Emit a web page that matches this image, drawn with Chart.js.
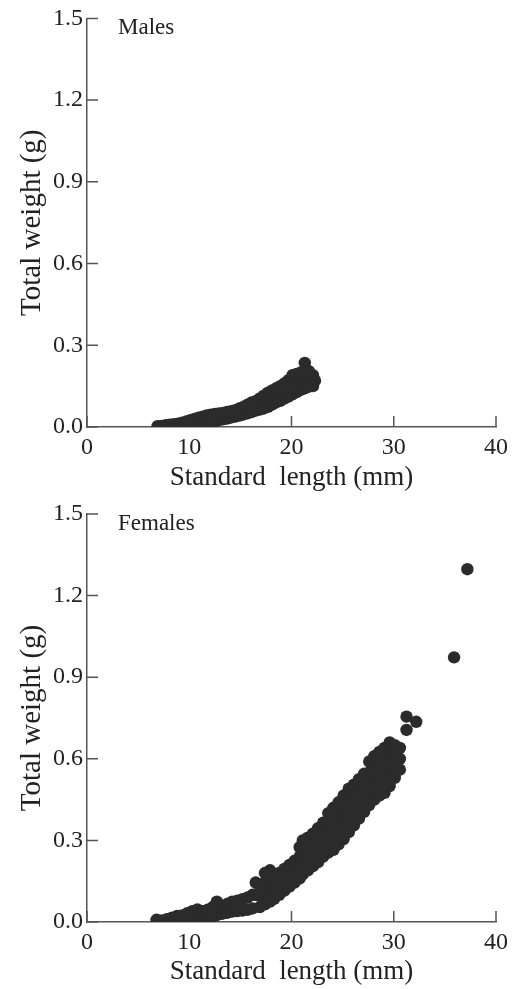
<!DOCTYPE html>
<html>
<head>
<meta charset="utf-8">
<title>Total weight vs standard length</title>
<script src="https://cdn.jsdelivr.net/npm/chart.js@4.4.1/dist/chart.umd.min.js"></script>
<style>
  body { margin: 0; background: #fff; }
  canvas { display: block; }
</style>
</head>
<body>
<canvas id="males-chart" width="516" height="495"></canvas>
<canvas id="females-chart" width="516" height="494"></canvas>
<script>
// values (standard length in mm, total weight in g),
// one row per length column
const maleLength = [
  6.9, 7.3, 7.7, 7.7, 8.1, 8.1, 8.5, 8.5, 8.9, 8.9,
  9.3, 9.3, 9.7, 9.7, 10.1, 10.1, 10.5, 10.5, 10.9, 10.9,
  11.3, 11.3, 11.7, 11.7, 12.1, 12.1, 12.5, 12.5, 12.9, 12.9,
  13.3, 13.3, 13.7, 13.7, 14.1, 14.1, 14.5, 14.5, 14.9, 14.9,
  15.3, 15.3, 15.7, 15.7, 16.1, 16.1, 16.5, 16.5, 16.9, 16.9,
  17.3, 17.3, 17.3, 17.7, 17.7, 17.7, 18.1, 18.1, 18.1,
  18.5, 18.5, 18.5, 18.9, 18.9, 18.9, 19.3, 19.3, 19.3,
  19.7, 19.7, 19.7, 20.1, 20.1, 20.1, 20.5, 20.5, 20.5,
  20.9, 20.9, 20.9, 21.3, 21.3, 21.3, 21.7, 21.7, 21.7,
  22.1, 22.1, 22.3,
];
const maleWeight = [
  0.003, 0.004, 0.003, 0.007, 0.004, 0.008, 0.005, 0.010, 0.005, 0.012,
  0.006, 0.016, 0.008, 0.020, 0.009, 0.025, 0.010, 0.030, 0.012, 0.034,
  0.013, 0.038, 0.015, 0.042, 0.018, 0.045, 0.022, 0.048, 0.025, 0.050,
  0.028, 0.052, 0.031, 0.055, 0.035, 0.058, 0.038, 0.062, 0.042, 0.068,
  0.046, 0.074, 0.050, 0.082, 0.055, 0.090, 0.060, 0.095, 0.064, 0.105,
  0.068, 0.095, 0.115, 0.074, 0.100, 0.126, 0.082, 0.110, 0.134,
  0.090, 0.118, 0.142, 0.096, 0.124, 0.150, 0.104, 0.134, 0.160,
  0.112, 0.142, 0.172, 0.120, 0.155, 0.190, 0.128, 0.162, 0.195,
  0.136, 0.170, 0.200, 0.142, 0.178, 0.235, 0.148, 0.182, 0.205,
  0.150, 0.190, 0.170,
];

const femaleLength = [
  6.8, 7.3, 7.8, 8.3, 8.3, 8.8, 8.8, 9.3, 9.3, 9.8, 9.8,
  10.3, 10.3, 10.8, 10.8, 11.3, 11.3, 11.8, 11.8, 12.3, 12.3,
  12.7, 12.7, 13.2, 13.2, 13.7, 13.7, 14.2, 14.2, 14.7, 14.7,
  15.2, 15.2, 15.7, 15.7, 16.2, 16.2, 16.5, 16.5,
  16.9, 16.9, 16.9, 17.4, 17.4, 17.4, 17.4,
  17.9, 17.9, 17.9, 17.9, 18.3, 18.3, 18.3,
  18.8, 18.8, 18.8, 19.3, 19.3, 19.3, 19.8, 19.8, 19.8,
  20.3, 20.3, 20.3, 20.8, 20.8, 20.8, 20.8,
  21.1, 21.1, 21.1, 21.1, 21.6, 21.6, 21.6, 21.6,
  22.1, 22.1, 22.1, 22.1, 22.6, 22.6, 22.6, 22.6,
  23.1, 23.1, 23.1, 23.1,
  23.6, 23.6, 23.6, 23.6, 23.6,
  24.1, 24.1, 24.1, 24.1, 24.1,
  24.6, 24.6, 24.6, 24.6, 24.6,
  25.1, 25.1, 25.1, 25.1, 25.1,
  25.6, 25.6, 25.6, 25.6, 25.6,
  26.1, 26.1, 26.1, 26.1, 26.1,
  26.6, 26.6, 26.6, 26.6, 26.6,
  27.1, 27.1, 27.1, 27.1, 27.1,
  27.6, 27.6, 27.6, 27.6, 27.6,
  28.1, 28.1, 28.1, 28.1, 28.1,
  28.6, 28.6, 28.6, 28.6, 28.6,
  29.1, 29.1, 29.1, 29.1, 29.1,
  29.6, 29.6, 29.6, 29.6, 29.6,
  30.1, 30.1, 30.1, 30.1,
  30.6, 30.6, 30.6,
  31.25, 31.25, 32.2, 35.9, 37.2,
];
const femaleWeight = [
  0.008, 0.006, 0.010, 0.008, 0.016, 0.006, 0.022, 0.010, 0.024, 0.008, 0.032,
  0.012, 0.040, 0.010, 0.046, 0.015, 0.040, 0.014, 0.045, 0.022, 0.055,
  0.025, 0.075, 0.030, 0.060, 0.034, 0.066, 0.038, 0.075, 0.040, 0.078,
  0.042, 0.084, 0.045, 0.090, 0.050, 0.100, 0.100, 0.145,
  0.055, 0.095, 0.135, 0.065, 0.105, 0.145, 0.180,
  0.075, 0.115, 0.155, 0.190, 0.085, 0.125, 0.165,
  0.100, 0.140, 0.180, 0.115, 0.155, 0.195, 0.130, 0.170, 0.210,
  0.145, 0.185, 0.225, 0.160, 0.200, 0.240, 0.275,
  0.175, 0.215, 0.255, 0.300, 0.190, 0.230, 0.270, 0.310,
  0.205, 0.245, 0.285, 0.325, 0.220, 0.260, 0.300, 0.345,
  0.240, 0.280, 0.320, 0.365,
  0.255, 0.295, 0.335, 0.375, 0.400,
  0.265, 0.305, 0.345, 0.385, 0.420,
  0.285, 0.325, 0.365, 0.405, 0.440,
  0.305, 0.345, 0.385, 0.425, 0.465,
  0.330, 0.370, 0.410, 0.450, 0.490,
  0.355, 0.395, 0.435, 0.475, 0.505,
  0.380, 0.420, 0.460, 0.500, 0.525,
  0.405, 0.445, 0.485, 0.525, 0.545,
  0.430, 0.470, 0.510, 0.550, 0.590,
  0.450, 0.490, 0.530, 0.570, 0.610,
  0.465, 0.505, 0.545, 0.585, 0.625,
  0.475, 0.515, 0.555, 0.595, 0.640,
  0.500, 0.540, 0.580, 0.620, 0.660,
  0.530, 0.570, 0.610, 0.650,
  0.560, 0.600, 0.640,
  0.706, 0.755, 0.736, 0.973, 1.297,
];

const lengthTicks = [0, 10, 20, 30, 40];
const weightTicks = [0.0, 0.3, 0.6, 0.9, 1.2, 1.5];

const axisColor = '#555555';
const textColor = '#222222';
const dotColor = '#2b2b2b';
const serif = "'Liberation Serif', 'Times New Roman', serif";

// tick marks drawn on the inner side of the axes, plus the panel label
const innerTicks = {
  id: 'innerTicks',
  beforeDatasetsDraw(chart, args, opts) {
    const { ctx, chartArea, scales } = chart;
    ctx.save();
    ctx.strokeStyle = axisColor;
    ctx.lineWidth = 1.5;
    ctx.beginPath();
    for (const tick of scales.x.ticks) {
      const px = scales.x.getPixelForValue(tick.value);
      ctx.moveTo(px, chartArea.bottom);
      ctx.lineTo(px, chartArea.bottom - opts.size);
    }
    for (const tick of scales.y.ticks) {
      const py = scales.y.getPixelForValue(tick.value);
      ctx.moveTo(chartArea.left, py);
      ctx.lineTo(chartArea.left + opts.size, py);
    }
    ctx.stroke();
    ctx.restore();
  },
  afterDraw(chart, args, opts) {
    const { ctx, chartArea } = chart;
    ctx.save();
    ctx.fillStyle = textColor;
    ctx.font = '23px ' + serif;
    ctx.textBaseline = 'middle';
    ctx.fillText(opts.label, chartArea.left + 31, chartArea.top + 10);
    ctx.restore();
  },
};

function toPoints(xs, ys) {
  return xs.map((x, i) => ({ x: x, y: ys[i] }));
}

function buildChart(canvasId, label, lengths, weights, topPad, xHeight) {
  return new Chart(document.getElementById(canvasId), {
    type: 'scatter',
    data: {
      datasets: [
        {
          data: toPoints(lengths, weights),
          backgroundColor: dotColor,
          borderWidth: 0,
          pointRadius: 6.2,
        },
      ],
    },
    plugins: [innerTicks],
    options: {
      responsive: false,
      animation: false,
      events: [],
      devicePixelRatio: 1,
      layout: { padding: { top: topPad, right: 20, left: 0, bottom: 0 } },
      plugins: {
        legend: { display: false },
        tooltip: { enabled: false },
        innerTicks: { label: label, size: 11 },
      },
      scales: {
        x: {
          type: 'linear',
          min: 0,
          max: 40,
          afterBuildTicks: (scale) => {
            scale.ticks = lengthTicks.map((v) => ({ value: v }));
          },
          afterFit: (scale) => {
            scale.height = xHeight;
          },
          grid: { display: false, drawTicks: false },
          border: { display: true, color: axisColor, width: 1.5 },
          ticks: {
            padding: 6,
            color: textColor,
            font: { family: serif, size: 24 },
            maxRotation: 0,
          },
          title: {
            display: true,
            text: 'Standard  length (mm)',
            color: textColor,
            font: { family: serif, size: 27, lineHeight: 1.2 },
            padding: { top: 0, bottom: 1 },
          },
        },
        y: {
          type: 'linear',
          min: 0,
          max: 1.5,
          afterBuildTicks: (scale) => {
            scale.ticks = weightTicks.map((v) => ({ value: v }));
          },
          afterFit: (scale) => {
            scale.width = 87;
          },
          grid: { display: false, drawTicks: false },
          border: { display: true, color: axisColor, width: 1.5 },
          ticks: {
            padding: 4,
            color: textColor,
            font: { family: serif, size: 24 },
            callback: (value) => Number(value).toFixed(1),
          },
          title: {
            display: true,
            text: 'Total weight (g)',
            color: textColor,
            font: { family: serif, size: 29, lineHeight: 1.2 },
            padding: { top: 15, bottom: 0 },
          },
        },
      },
    },
  });
}

buildChart('males-chart', 'Males', maleLength, maleWeight, 18, 68);
buildChart('females-chart', 'Females', femaleLength, femaleWeight, 19, 67);
</script>
</body>
</html>
